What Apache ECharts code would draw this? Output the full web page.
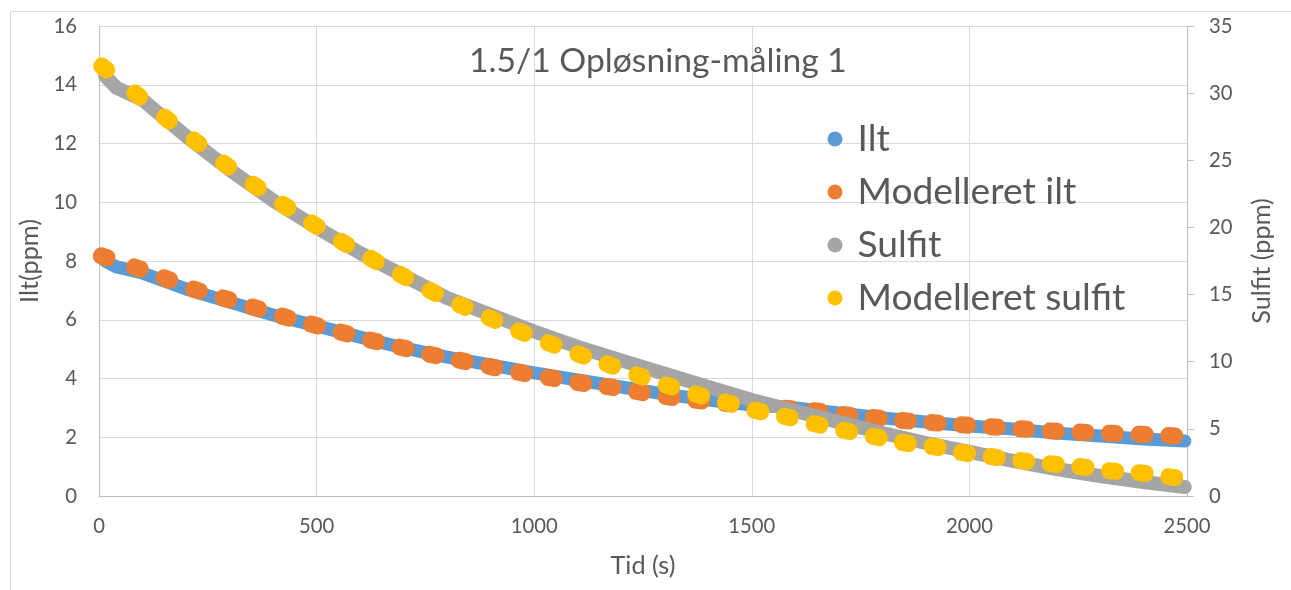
<!DOCTYPE html>
<html><head><meta charset="utf-8">
<script src="https://cdn.jsdelivr.net/npm/echarts@6/dist/echarts.min.js"></script>
<style>html,body{margin:0;padding:0;background:#fff}#c{width:1291px;height:590px}</style>
</head><body><div id="c"></div>
<script>
// ---- data ----
const chartTitle = '1.5/1 Opløsning-måling 1';
const seriesNames = ['Ilt', 'Modelleret ilt', 'Sulfit', 'Modelleret sulfit'];
const xAxisName = 'Tid (s)';
const yLeftName = 'Ilt(ppm)';
const yRightName = 'Sulfit (ppm)';

// measured series (time in s)
const measT = [14, 40, 100, 200, 300, 400, 500, 600, 700, 800, 900, 1000, 1100, 1200, 1300, 1400, 1500, 1600, 1700, 1800, 1900, 2000, 2100, 2200, 2300, 2400, 2495];
const iltV = [8.0, 7.8, 7.59, 7.05, 6.60, 6.16, 5.79, 5.41, 5.04, 4.73, 4.46, 4.19, 3.95, 3.71, 3.47, 3.27, 3.10, 3.0, 2.83, 2.66, 2.52, 2.38, 2.28, 2.14, 2.04, 1.94, 1.87];
const sulfitV = [31.3, 30.4, 29.5, 26.8, 24.3, 22.0, 20.0, 18.1, 16.4, 14.75, 13.5, 12.25, 11.1, 10.1, 9.1, 8.12, 7.15, 6.33, 5.5, 4.69, 3.95, 3.28, 2.61, 2.01, 1.49, 1.04, 0.67];

// modelled series
const modelT = [12, 88, 156, 224, 292, 360, 428, 495, 563, 631, 699, 767, 835, 903, 971, 1039, 1107, 1174, 1242, 1310, 1378, 1446, 1514, 1582, 1650, 1718, 1786, 1853, 1921, 1989, 2057, 2125, 2193, 2261, 2329, 2397, 2465];
const modelIltV = [8.14, 7.76, 7.39, 7.01, 6.71, 6.40, 6.09, 5.82, 5.55, 5.28, 5.04, 4.80, 4.60, 4.39, 4.19, 4.02, 3.85, 3.71, 3.54, 3.37, 3.25, 3.14, 3.05, 2.98, 2.89, 2.76, 2.66, 2.56, 2.49, 2.42, 2.35, 2.28, 2.21, 2.17, 2.13, 2.10, 2.05];
const modelSulfitV = [31.87, 29.86, 28.07, 26.36, 24.65, 23.08, 21.59, 20.2, 18.84, 17.57, 16.38, 15.19, 14.15, 13.18, 12.21, 11.32, 10.50, 9.75, 8.94, 8.19, 7.52, 6.92, 6.33, 5.88, 5.33, 4.84, 4.39, 3.95, 3.65, 3.20, 2.90, 2.61, 2.38, 2.16, 1.86, 1.71, 1.41];

// ---- styling ----
const FONT = 'Lato';
const TXT = '#595959';
function fit(text, w) {
  const c = document.createElement('canvas').getContext('2d');
  c.font = '100px ' + FONT;
  return 100 * w / c.measureText(text).width;
}
const titleSize = fit(chartTitle, 378);
const legendSize = fit('Modelleret sulfit', 268);
const tickSize = fit('2500', 47);
const nameSize = fit(xAxisName, 65);

const zip = (a, b) => a.map((v, i) => [v, b[i]]);
const capsule = 'path://M8,0 L16,0 A8,8 0 0 1 16,16 L8,16 A8,8 0 0 1 8,0 Z';
const plain = v => String(v);

const chart = echarts.init(document.getElementById('c'), null, {renderer: 'canvas'});
const option = {
  animation: false,
  backgroundColor: '#fff',
  textStyle: {fontFamily: FONT},
  title: {
    text: chartTitle, left: 464, top: 36,
    textStyle: {fontFamily: FONT, fontWeight: 'normal', fontSize: titleSize, color: TXT, lineHeight: 40}
  },
  graphic: [{
    type: 'rect', silent: true, z: -1,
    shape: {x: 10.5, y: 11.5, width: 1300, height: 600},
    style: {fill: 'none', stroke: '#d9d9d9', lineWidth: 1}
  }],
  legend: {
    orient: 'vertical', left: 822.5, top: 114, itemGap: 13,
    icon: 'circle', itemWidth: 15, itemHeight: 15,
    data: seriesNames,
    textStyle: {fontFamily: FONT, fontSize: legendSize, color: TXT, lineHeight: 40, padding: [0, 0, 0, 10]}
  },
  grid: {left: 99, right: 104, top: 26, bottom: 94, containLabel: false},
  xAxis: {
    type: 'value', min: 0, max: 2500, interval: 500,
    name: xAxisName, nameLocation: 'middle', nameGap: 57,
    nameTextStyle: {fontFamily: FONT, fontSize: nameSize, color: TXT},
    axisLine: {show: true, lineStyle: {color: '#bfbfbf', width: 1}},
    axisTick: {show: false},
    axisLabel: {fontFamily: FONT, fontSize: tickSize, color: TXT, margin: 20, formatter: plain},
    splitLine: {show: true, lineStyle: {color: '#d9d9d9', width: 1}}
  },
  yAxis: [{
    type: 'value', min: 0, max: 16, interval: 2, position: 'left',
    name: yLeftName, nameLocation: 'middle', nameGap: 50, nameRotate: 90,
    nameTextStyle: {fontFamily: FONT, fontSize: nameSize, color: TXT},
    axisLine: {show: true, lineStyle: {color: '#bfbfbf', width: 1}},
    axisTick: {show: false},
    axisLabel: {fontFamily: FONT, fontSize: tickSize, color: TXT, margin: 22, formatter: plain},
    splitLine: {show: true, lineStyle: {color: '#d9d9d9', width: 1}}
  }, {
    type: 'value', min: 0, max: 35, interval: 5, position: 'right',
    name: yRightName, nameLocation: 'middle', nameGap: 62, nameRotate: 90,
    nameTextStyle: {fontFamily: FONT, fontSize: nameSize, color: TXT},
    axisLine: {show: true, lineStyle: {color: '#bfbfbf', width: 1}},
    axisTick: {show: true, inside: false, length: 7, lineStyle: {color: '#bfbfbf'}},
    axisLabel: {fontFamily: FONT, fontSize: tickSize, color: TXT, margin: 22, formatter: plain},
    splitLine: {show: false}
  }],
  series: [{
    id: 's0', name: seriesNames[0], type: 'line', yAxisIndex: 0, z: 2,
    data: zip(measT, iltV), showSymbol: false, symbol: 'none',
    itemStyle: {color: '#5B9BD5'},
    lineStyle: {color: '#5B9BD5', width: 13, cap: 'round', join: 'round'}
  }, {
    id: 's1', name: seriesNames[1], type: 'scatter', yAxisIndex: 0, z: 3,
    data: zip(modelT, modelIltV), symbol: capsule, symbolSize: [23, 17],
    itemStyle: {color: '#ED7D31', opacity: 1}
  }, {
    id: 's2', name: seriesNames[2], type: 'line', yAxisIndex: 1, z: 4,
    data: zip(measT, sulfitV), showSymbol: false, symbol: 'none',
    itemStyle: {color: '#A5A5A5'},
    lineStyle: {color: '#A5A5A5', width: 14, cap: 'round', join: 'round'}
  }, {
    id: 's3', name: seriesNames[3], type: 'scatter', yAxisIndex: 1, z: 5,
    data: zip(modelT, modelSulfitV), symbol: capsule, symbolSize: [23, 17],
    itemStyle: {color: '#FFC000', opacity: 1}
  }]
};
chart.setOption(option);

// orient each modelled marker along its curve
function orient(seriesIndex, T, V) {
  const px = T.map((t, i) => chart.convertToPixel({seriesIndex}, [t, V[i]]));
  return T.map((t, i) => {
    const a = px[Math.max(0, i - 1)], b = px[Math.min(px.length - 1, i + 1)];
    const deg = Math.atan2(b[1] - a[1], b[0] - a[0]) * 180 / Math.PI;
    return {value: [t, V[i]], symbolRotate: -deg};
  });
}
chart.setOption({series: [
  {id: 's1', data: orient(1, modelT, modelIltV)},
  {id: 's3', data: orient(3, modelT, modelSulfitV)}
]});
</script></body></html>
